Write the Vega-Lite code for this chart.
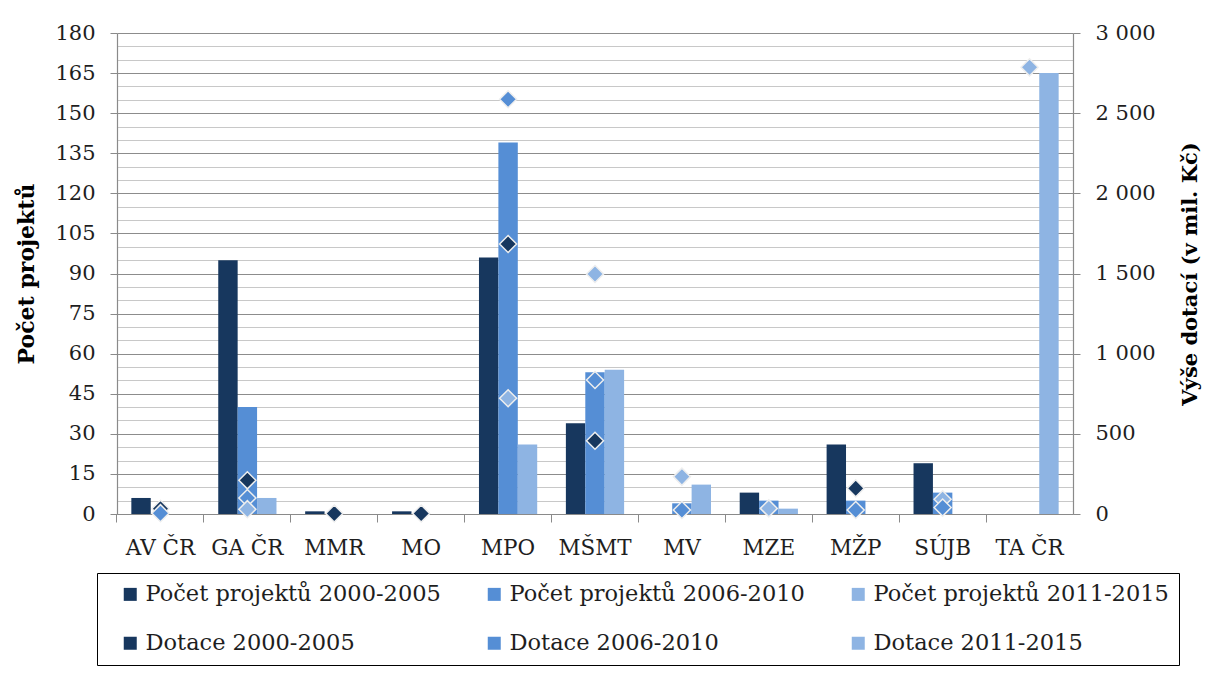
{
  "$schema": "https://vega.github.io/schema/vega-lite/v6.json",
  "autosize": "none",
  "width": 956,
  "height": 481,
  "padding": {"left": 117, "top": 33, "right": 136, "bottom": 160},
  "background": "white",
  "config": {
    "view": {"stroke": null},
    "font": "DejaVu Serif",
    "axis": {
      "labelFont": "DejaVu Serif",
      "titleFont": "DejaVu Serif",
      "labelColor": "#1e1e1e",
      "titleColor": "#000000",
      "domainColor": "#8a8a8a",
      "tickColor": "#8a8a8a",
      "labelOverlap": false,
      "labelFlush": false,
      "labelBound": false
    },
    "legend": {
      "labelFont": "DejaVu Serif",
      "labelFontSize": 22.5,
      "labelColor": "#1e1e1e",
      "labelLimit": 0
    }
  },
  "datasets": {
    "bars": [
      {"k": "AV ČR", "s": "Počet projektů 2000-2005", "v": 6},
      {"k": "GA ČR", "s": "Počet projektů 2000-2005", "v": 95},
      {"k": "GA ČR", "s": "Počet projektů 2006-2010", "v": 40},
      {"k": "GA ČR", "s": "Počet projektů 2011-2015", "v": 6},
      {"k": "MMR", "s": "Počet projektů 2000-2005", "v": 1},
      {"k": "MO", "s": "Počet projektů 2000-2005", "v": 1},
      {"k": "MPO", "s": "Počet projektů 2000-2005", "v": 96},
      {"k": "MPO", "s": "Počet projektů 2006-2010", "v": 139},
      {"k": "MPO", "s": "Počet projektů 2011-2015", "v": 26},
      {"k": "MŠMT", "s": "Počet projektů 2000-2005", "v": 34},
      {"k": "MŠMT", "s": "Počet projektů 2006-2010", "v": 53},
      {"k": "MŠMT", "s": "Počet projektů 2011-2015", "v": 54},
      {"k": "MV", "s": "Počet projektů 2006-2010", "v": 4},
      {"k": "MV", "s": "Počet projektů 2011-2015", "v": 11},
      {"k": "MZE", "s": "Počet projektů 2000-2005", "v": 8},
      {"k": "MZE", "s": "Počet projektů 2006-2010", "v": 5},
      {"k": "MZE", "s": "Počet projektů 2011-2015", "v": 2},
      {"k": "MŽP", "s": "Počet projektů 2000-2005", "v": 26},
      {"k": "MŽP", "s": "Počet projektů 2006-2010", "v": 5},
      {"k": "SÚJB", "s": "Počet projektů 2000-2005", "v": 19},
      {"k": "SÚJB", "s": "Počet projektů 2006-2010", "v": 8},
      {"k": "TA ČR", "s": "Počet projektů 2011-2015", "v": 165}
    ],
    "points": [
      {"k": "AV ČR", "s": "Dotace 2000-2005", "d": 33},
      {"k": "GA ČR", "s": "Dotace 2000-2005", "d": 210},
      {"k": "MMR", "s": "Dotace 2000-2005", "d": 3},
      {"k": "MO", "s": "Dotace 2000-2005", "d": 3},
      {"k": "MPO", "s": "Dotace 2000-2005", "d": 1684},
      {"k": "MŠMT", "s": "Dotace 2000-2005", "d": 457},
      {"k": "MŽP", "s": "Dotace 2000-2005", "d": 160},
      {"k": "SÚJB", "s": "Dotace 2011-2015", "d": 92},
      {"k": "AV ČR", "s": "Dotace 2006-2010", "d": 5},
      {"k": "GA ČR", "s": "Dotace 2006-2010", "d": 100},
      {"k": "MPO", "s": "Dotace 2006-2010", "d": 2587},
      {"k": "MŠMT", "s": "Dotace 2006-2010", "d": 836},
      {"k": "MV", "s": "Dotace 2006-2010", "d": 25},
      {"k": "MŽP", "s": "Dotace 2006-2010", "d": 25},
      {"k": "SÚJB", "s": "Dotace 2006-2010", "d": 40},
      {"k": "GA ČR", "s": "Dotace 2011-2015", "d": 30},
      {"k": "MPO", "s": "Dotace 2011-2015", "d": 722},
      {"k": "MŠMT", "s": "Dotace 2011-2015", "d": 1497},
      {"k": "MV", "s": "Dotace 2011-2015", "d": 233},
      {"k": "MZE", "s": "Dotace 2011-2015", "d": 35},
      {"k": "TA ČR", "s": "Dotace 2011-2015", "d": 2786}
    ]
  },
  "encoding": {
    "x": {
      "field": "k",
      "type": "nominal",
      "scale": {
        "domain": ["AV ČR", "GA ČR", "MMR", "MO", "MPO", "MŠMT", "MV", "MZE", "MŽP", "SÚJB", "TA ČR"],
        "paddingInner": 0.33,
        "paddingOuter": 0.165
      },
      "axis": {
        "title": null,
        "labelAngle": 0,
        "labelFontSize": 21.5,
        "labelPadding": 15,
        "tickSize": 8,
        "bandPosition": -0.2463,
        "grid": false,
        "domainWidth": 1.2
      }
    },
    "color": {
      "field": "s",
      "type": "nominal",
      "scale": {
        "domain": ["Počet projektů 2000-2005", "Počet projektů 2006-2010", "Počet projektů 2011-2015", "Dotace 2000-2005", "Dotace 2006-2010", "Dotace 2011-2015"],
        "range": ["#17375E", "#558ED5", "#8EB4E3", "#17375E", "#558ED5", "#8EB4E3"]
      },
      "legend": {
        "title": null,
        "orient": "none",
        "legendX": -20,
        "legendY": 540,
        "direction": "horizontal",
        "columns": 3,
        "columnPadding": 30,
        "rowPadding": 26,
        "padding": 10,
        "strokeColor": "#000000",
        "symbolOffset": 12,
        "labelOffset": 4,
        "symbolSize": 169,
        "symbolStrokeWidth": 0
      }
    }
  },
  "layer": [
    {
      "data": {"name": "bars"},
      "mark": {"type": "bar"},
      "encoding": {
        "xOffset": {
          "field": "s",
          "type": "nominal",
          "scale": {
            "domain": ["Počet projektů 2000-2005", "Počet projektů 2006-2010", "Počet projektů 2011-2015"]
          }
        },
        "y": {
          "field": "v",
          "type": "quantitative",
          "scale": {"domain": [0, 180], "nice": false, "zero": true},
          "axis": {
            "orient": "left",
            "title": "Počet projektů",
            "titleFontSize": 22,
            "titleFontWeight": "bold",
            "titlePadding": 16,
            "values": [0,5,10,15,20,25,30,35,40,45,50,55,60,65,70,75,80,85,90,95,100,105,110,115,120,125,130,135,140,145,150,155,160,165,170,175,180],
            "labelExpr": "datum.value % 15 === 0 ? datum.label : ''",
            "labelFontSize": 21,
            "labelPadding": 15,
            "tickSize": 7,
            "tickOpacity": {"condition": {"test": "datum.value % 15 === 0", "value": 1}, "value": 0},
            "grid": true,
            "gridColor": {"condition": {"test": "datum.value % 15 === 0", "value": "#8c8c8c"}, "value": "#c8c8c8"},
            "domainWidth": 1.2
          }
        }
      }
    },
    {
      "data": {"name": "points"},
      "mark": {"type": "point", "shape": "diamond", "filled": true, "size": 290, "stroke": "#eeeeee", "strokeWidth": 1.5, "opacity": 1},
      "encoding": {
        "y": {
          "field": "d",
          "type": "quantitative",
          "scale": {"domain": [0, 3000], "nice": false, "zero": true},
          "axis": {
            "orient": "right",
            "title": "Výše dotací (v mil. Kč)",
            "titleFontSize": 21,
            "titleFontWeight": "bold",
            "titleAngle": -90,
            "titleBaseline": "top",
            "titlePadding": 24,
            "values": [0, 500, 1000, 1500, 2000, 2500, 3000],
            "labelExpr": "replace(format(datum.value, ','), ',', ' ')",
            "labelFontSize": 21,
            "labelPadding": 15,
            "tickSize": 7,
            "grid": false,
            "domainWidth": 1.2
          }
        }
      }
    }
  ],
  "resolve": {"scale": {"y": "independent"}}
}
